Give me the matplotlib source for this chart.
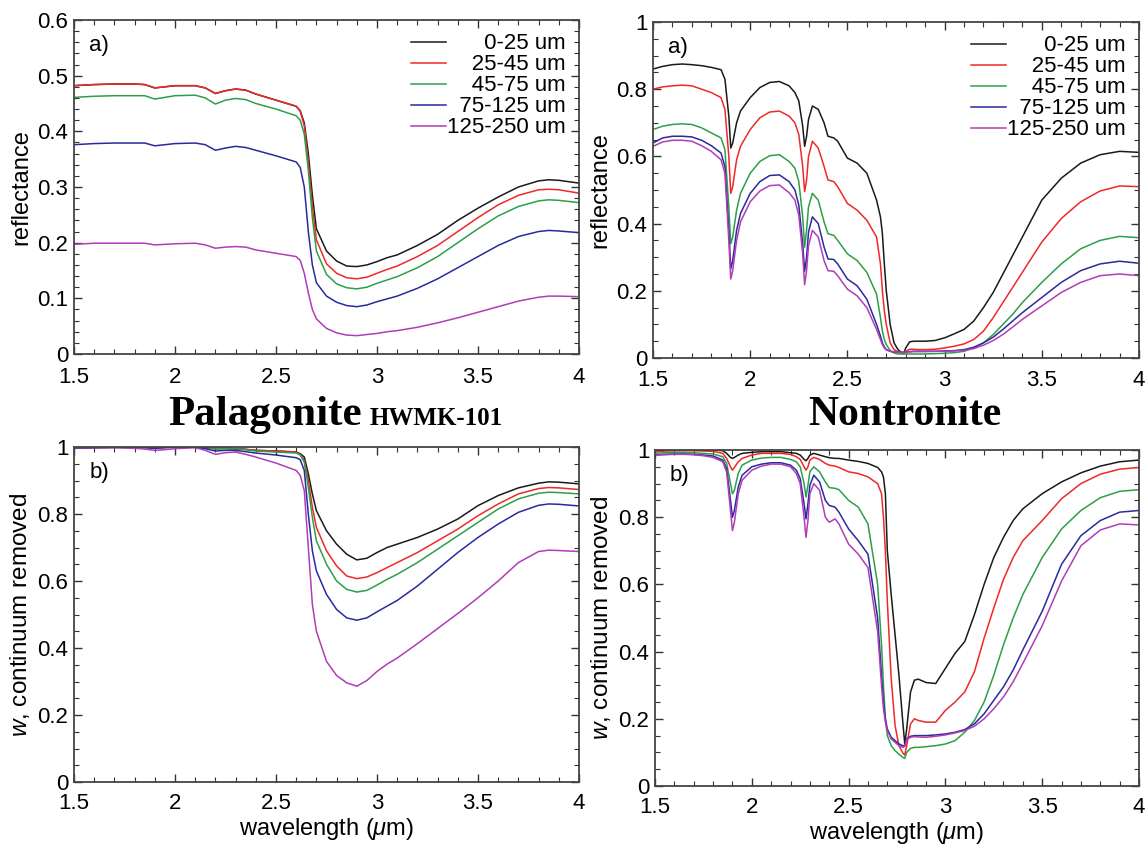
import matplotlib
matplotlib.use("Agg")
import matplotlib.pyplot as plt
from matplotlib.ticker import MultipleLocator

plt.rcParams['font.family'] = ['Liberation Sans', 'DejaVu Sans']
plt.rcParams['mathtext.fontset'] = 'custom'
plt.rcParams['mathtext.rm'] = 'Liberation Sans'
plt.rcParams['mathtext.it'] = 'Liberation Sans:italic'

# grain size classes (legend labels padded with figure spaces so they line up on the right)
sizes = ["\u2007\u2007\u20070-25 um", "\u2007\u200725-45 um", "\u2007\u200745-75 um",
         "\u200775-125 um", "125-250 um"]
colors = ["#1a1a1a", "#f02828", "#2ca048", "#2a2a9e", "#b03cb8"]

# ---- Palagonite HWMK-101 ----
wl_pal = [1.5, 1.6, 1.7, 1.8, 1.85, 1.9, 1.95, 2.0, 2.1, 2.15, 2.2, 2.25, 2.3, 2.35, 2.4, 2.5,
          2.6, 2.62, 2.64, 2.66, 2.68, 2.7, 2.75, 2.8, 2.85, 2.9, 2.95, 3.0, 3.05, 3.1, 3.2,
          3.3, 3.4, 3.5, 3.6, 3.7, 3.8, 3.85, 3.9, 4.0]

refl_pal_0_25 = [0.482, 0.484, 0.485, 0.485, 0.484, 0.478, 0.480, 0.482, 0.482, 0.478, 0.468,
                 0.473, 0.476, 0.474, 0.467, 0.456, 0.445, 0.437, 0.415, 0.36, 0.285, 0.225,
                 0.185, 0.167, 0.158, 0.157, 0.16, 0.166, 0.173, 0.178, 0.195, 0.215, 0.24,
                 0.262, 0.282, 0.300, 0.311, 0.313, 0.312, 0.307]
refl_pal_25_45 = [0.482, 0.484, 0.485, 0.485, 0.484, 0.478, 0.480, 0.482, 0.482, 0.478, 0.468,
                  0.473, 0.476, 0.474, 0.467, 0.456, 0.445, 0.436, 0.41, 0.345, 0.265, 0.205,
                  0.162, 0.145, 0.137, 0.135, 0.138, 0.145, 0.152, 0.158, 0.175, 0.195, 0.22,
                  0.245, 0.268, 0.285, 0.295, 0.296, 0.295, 0.289]
refl_pal_45_75 = [0.461, 0.463, 0.464, 0.464, 0.464, 0.458, 0.461, 0.464, 0.465, 0.46, 0.449,
                  0.456, 0.459, 0.457, 0.45, 0.44, 0.428, 0.42, 0.395, 0.33, 0.245, 0.185,
                  0.143, 0.126, 0.119, 0.117, 0.12, 0.127, 0.133, 0.139, 0.155, 0.175, 0.2,
                  0.225, 0.248, 0.265, 0.275, 0.277, 0.276, 0.272]
refl_pal_75_125 = [0.376, 0.378, 0.379, 0.379, 0.379, 0.374, 0.376, 0.378, 0.379, 0.376, 0.366,
                   0.37, 0.373, 0.371, 0.366, 0.356, 0.345, 0.335, 0.3, 0.22, 0.16, 0.128,
                   0.104, 0.093, 0.087, 0.085, 0.088, 0.094, 0.099, 0.104, 0.118, 0.135, 0.155,
                   0.175, 0.195, 0.211, 0.22, 0.222, 0.221, 0.218]
refl_pal_125_250 = [0.197, 0.199, 0.199, 0.199, 0.199, 0.196, 0.197, 0.198, 0.199, 0.196, 0.19,
                    0.192, 0.193, 0.192, 0.187, 0.181, 0.175, 0.168, 0.145, 0.11, 0.08, 0.063,
                    0.046, 0.038, 0.034, 0.033, 0.035, 0.037, 0.04, 0.042, 0.048, 0.056, 0.065,
                    0.075, 0.085, 0.095, 0.102, 0.104, 0.104, 0.103]

w_pal_0_25 = [0.997, 0.998, 0.999, 0.999, 0.999, 0.998, 0.999, 1.0, 1.0, 0.998, 0.995, 0.996,
              0.995, 0.993, 0.99, 0.988, 0.985, 0.98, 0.97, 0.92, 0.86, 0.81, 0.75, 0.71,
              0.68, 0.663, 0.668, 0.685, 0.70, 0.71, 0.73, 0.755, 0.785, 0.825, 0.855, 0.878,
              0.892, 0.896, 0.895, 0.89]
w_pal_25_45 = [0.998, 0.999, 0.999, 0.999, 0.999, 0.998, 0.999, 1.0, 1.0, 0.998, 0.995, 0.996,
               0.995, 0.993, 0.99, 0.988, 0.985, 0.978, 0.96, 0.9, 0.82, 0.76, 0.69, 0.645,
               0.615, 0.607, 0.612, 0.625, 0.64, 0.655, 0.685, 0.72, 0.755, 0.795, 0.83, 0.86,
               0.876, 0.879, 0.878, 0.873]
w_pal_45_75 = [0.998, 0.999, 0.999, 0.999, 0.999, 0.997, 0.999, 1.0, 1.0, 0.998, 0.995, 0.995,
               0.994, 0.992, 0.988, 0.985, 0.982, 0.976, 0.955, 0.88, 0.79, 0.72, 0.65, 0.6,
               0.575, 0.567, 0.572, 0.588, 0.605, 0.62, 0.655, 0.695, 0.735, 0.775, 0.815,
               0.845, 0.862, 0.865, 0.864, 0.86]
w_pal_75_125 = [0.997, 0.998, 0.999, 0.999, 0.998, 0.996, 0.998, 0.999, 0.999, 0.995, 0.988,
                0.99, 0.99, 0.986, 0.982, 0.976, 0.968, 0.962, 0.93, 0.8, 0.69, 0.63, 0.56,
                0.515, 0.49, 0.483, 0.49, 0.508, 0.525, 0.542, 0.585, 0.635, 0.685, 0.73, 0.77,
                0.805, 0.826, 0.83, 0.829, 0.824]
w_pal_125_250 = [0.998, 0.998, 0.998, 0.996, 0.994, 0.99, 0.992, 0.995, 0.998, 0.99, 0.978,
                 0.983, 0.985, 0.978, 0.97, 0.952, 0.93, 0.915, 0.87, 0.7, 0.53, 0.45, 0.36,
                 0.318, 0.296, 0.286, 0.303, 0.33, 0.352, 0.37, 0.413, 0.458, 0.503, 0.55, 0.6,
                 0.655, 0.688, 0.692, 0.691, 0.688]

# ---- Nontronite ----
wl_non = [1.5, 1.55, 1.6, 1.65, 1.7, 1.75, 1.8, 1.85, 1.87, 1.89, 1.9, 1.91, 1.93, 1.95, 2.0,
          2.05, 2.1, 2.15, 2.2, 2.23, 2.25, 2.27, 2.28, 2.29, 2.3, 2.32, 2.35, 2.38, 2.4, 2.43,
          2.45, 2.5, 2.55, 2.6, 2.65, 2.67, 2.68, 2.69, 2.7, 2.72, 2.74, 2.76, 2.78, 2.79, 2.8,
          2.82, 2.84, 2.86, 2.9, 2.95, 3.0, 3.05, 3.1, 3.15, 3.2, 3.25, 3.3, 3.35, 3.4, 3.5,
          3.6, 3.7, 3.8, 3.9, 4.0]

refl_non_0_25 = [0.86, 0.868, 0.873, 0.875, 0.873, 0.87, 0.865, 0.858, 0.83, 0.72, 0.625, 0.64,
                 0.70, 0.735, 0.775, 0.805, 0.82, 0.823, 0.81, 0.79, 0.765, 0.69, 0.63, 0.66,
                 0.71, 0.75, 0.74, 0.70, 0.66, 0.655, 0.645, 0.595, 0.58, 0.55, 0.47, 0.42,
                 0.37, 0.28, 0.2, 0.1, 0.045, 0.025, 0.015, 0.013, 0.03, 0.048, 0.05, 0.05,
                 0.05, 0.052, 0.06, 0.072, 0.085, 0.11, 0.15, 0.195, 0.25, 0.305, 0.36, 0.47,
                 0.535, 0.58, 0.605, 0.615, 0.612]
refl_non_25_45 = [0.80, 0.807, 0.81, 0.812, 0.81, 0.80, 0.79, 0.775, 0.74, 0.6, 0.49, 0.51,
                  0.59, 0.63, 0.68, 0.715, 0.732, 0.735, 0.72, 0.70, 0.665, 0.57, 0.495, 0.53,
                  0.6, 0.645, 0.625, 0.57, 0.53, 0.525, 0.51, 0.46, 0.44, 0.41, 0.36, 0.28, 0.2,
                  0.14, 0.1, 0.045, 0.025, 0.018, 0.015, 0.015, 0.02, 0.026, 0.026, 0.025, 0.025,
                  0.026, 0.03, 0.035, 0.042, 0.055, 0.08, 0.12, 0.165, 0.21, 0.255, 0.345, 0.415,
                  0.465, 0.497, 0.512, 0.51]
refl_non_45_75 = [0.68, 0.69, 0.695, 0.697, 0.695, 0.685, 0.67, 0.655, 0.62, 0.45, 0.34, 0.36,
                  0.44, 0.49, 0.55, 0.585, 0.602, 0.605, 0.585, 0.565, 0.525, 0.42, 0.33, 0.38,
                  0.45, 0.49, 0.47, 0.405, 0.37, 0.365, 0.35, 0.31, 0.29, 0.255, 0.19, 0.12,
                  0.08, 0.055, 0.04, 0.022, 0.015, 0.012, 0.012, 0.012, 0.012, 0.012, 0.012,
                  0.012, 0.012, 0.013, 0.014, 0.016, 0.02, 0.03, 0.045, 0.07, 0.1, 0.13, 0.165,
                  0.225, 0.28, 0.325, 0.35, 0.362, 0.358]
refl_non_75_125 = [0.64, 0.655, 0.66, 0.66, 0.658, 0.648, 0.632, 0.61, 0.57, 0.38, 0.265, 0.29,
                   0.38, 0.43, 0.49, 0.525, 0.543, 0.545, 0.525, 0.5, 0.455, 0.34, 0.258, 0.3,
                   0.375, 0.42, 0.4, 0.33, 0.295, 0.293, 0.28, 0.235, 0.215, 0.175, 0.1, 0.065,
                   0.045, 0.033, 0.025, 0.02, 0.018, 0.017, 0.017, 0.017, 0.018, 0.019, 0.02,
                   0.02, 0.02, 0.02, 0.021, 0.022, 0.025, 0.032, 0.045, 0.062, 0.085, 0.11,
                   0.135, 0.18, 0.225, 0.26, 0.28, 0.288, 0.282]
refl_non_125_250 = [0.63, 0.643, 0.648, 0.648, 0.645, 0.632, 0.615, 0.59, 0.55, 0.35, 0.235,
                    0.26, 0.35, 0.405, 0.465, 0.497, 0.513, 0.515, 0.492, 0.47, 0.425, 0.31,
                    0.218, 0.26, 0.335, 0.38, 0.36, 0.29, 0.26, 0.258, 0.245, 0.205, 0.185, 0.15,
                    0.085, 0.055, 0.04, 0.03, 0.024, 0.02, 0.018, 0.017, 0.017, 0.017, 0.018,
                    0.018, 0.019, 0.019, 0.019, 0.02, 0.02, 0.021, 0.023, 0.028, 0.038, 0.052,
                    0.07, 0.092, 0.115, 0.155, 0.195, 0.225, 0.245, 0.25, 0.245]

w_non_0_25 = [0.998, 0.999, 0.999, 1.0, 1.0, 1.0, 1.0, 0.998, 0.99, 0.978, 0.975, 0.978, 0.985,
              0.99, 0.993, 0.995, 0.995, 0.995, 0.992, 0.99, 0.985, 0.972, 0.968, 0.975, 0.985,
              0.99, 0.985, 0.98, 0.977, 0.975, 0.975, 0.97, 0.966, 0.96, 0.948, 0.935, 0.92,
              0.87, 0.70, 0.57, 0.45, 0.33, 0.19, 0.125, 0.17, 0.28, 0.315, 0.318, 0.308,
              0.305, 0.35, 0.395, 0.43, 0.51, 0.6, 0.68, 0.74, 0.79, 0.825, 0.87, 0.905, 0.932,
              0.952, 0.965, 0.97]
w_non_25_45 = [0.995, 0.997, 0.998, 0.998, 0.998, 0.997, 0.996, 0.99, 0.975, 0.95, 0.94, 0.948,
               0.965, 0.975, 0.985, 0.99, 0.99, 0.99, 0.987, 0.98, 0.972, 0.95, 0.94, 0.95,
               0.97, 0.978, 0.972, 0.96, 0.955, 0.952, 0.948, 0.935, 0.93, 0.92, 0.9, 0.87, 0.8,
               0.7, 0.55, 0.32, 0.18, 0.12, 0.098, 0.092, 0.12, 0.185, 0.2, 0.195, 0.19, 0.19,
               0.225, 0.25, 0.28, 0.34, 0.44, 0.53, 0.615, 0.68, 0.73, 0.79, 0.855, 0.9, 0.928,
               0.943, 0.948]
w_non_45_75 = [0.99, 0.992, 0.993, 0.993, 0.992, 0.99, 0.988, 0.98, 0.96, 0.9, 0.87, 0.88, 0.93,
               0.955, 0.97, 0.976, 0.978, 0.978, 0.972, 0.965, 0.95, 0.9, 0.86, 0.895, 0.935,
               0.95, 0.935, 0.905, 0.888, 0.886, 0.882, 0.85, 0.83, 0.78, 0.6, 0.42, 0.3, 0.2,
               0.15, 0.12, 0.105, 0.095, 0.085, 0.082, 0.1, 0.112, 0.115, 0.115, 0.117, 0.12,
               0.125, 0.135, 0.16, 0.195, 0.25, 0.33, 0.42, 0.5, 0.57, 0.68, 0.765, 0.82, 0.858,
               0.877, 0.882]
w_non_75_125 = [0.985, 0.987, 0.988, 0.988, 0.987, 0.985, 0.982, 0.97, 0.945, 0.85, 0.80, 0.82,
                0.89, 0.925, 0.95, 0.958, 0.962, 0.962, 0.955, 0.94, 0.915, 0.84, 0.795, 0.84,
                0.895, 0.925, 0.905, 0.85, 0.835, 0.83, 0.815, 0.765, 0.73, 0.69, 0.5, 0.33,
                0.25, 0.2, 0.17, 0.145, 0.135, 0.125, 0.12, 0.12, 0.14, 0.148, 0.15, 0.15, 0.15,
                0.152, 0.155, 0.16, 0.168, 0.185, 0.215, 0.255, 0.295, 0.345, 0.405, 0.52, 0.66,
                0.745, 0.79, 0.815, 0.82]
w_non_125_250 = [0.985, 0.986, 0.987, 0.987, 0.986, 0.983, 0.978, 0.965, 0.935, 0.82, 0.76,
                 0.785, 0.87, 0.91, 0.94, 0.952, 0.958, 0.958, 0.95, 0.93, 0.9, 0.8, 0.74, 0.79,
                 0.87, 0.9, 0.88, 0.8, 0.785, 0.795, 0.78, 0.72, 0.69, 0.65, 0.46, 0.3, 0.23,
                 0.19, 0.165, 0.14, 0.13, 0.12, 0.115, 0.118, 0.138, 0.145, 0.147, 0.146, 0.145,
                 0.148, 0.152, 0.158, 0.165, 0.178, 0.2, 0.23, 0.265, 0.31, 0.365, 0.477, 0.61,
                 0.715, 0.762, 0.78, 0.777]


def style_axes(ax, ymax, ymajor, yminor, xpad):
    ax.set_xlim(1.5, 4)
    ax.set_ylim(0, ymax)
    ax.xaxis.set_major_locator(MultipleLocator(0.5))
    ax.xaxis.set_minor_locator(MultipleLocator(0.1))
    ax.yaxis.set_major_locator(MultipleLocator(ymajor))
    ax.yaxis.set_minor_locator(MultipleLocator(yminor))
    ax.xaxis.set_major_formatter(plt.FuncFormatter(lambda v, p: f"{v:g}"))
    ax.yaxis.set_major_formatter(plt.FuncFormatter(lambda v, p: f"{v:g}"))
    ax.tick_params(which='both', direction='in', top=True, right=True,
                   labelsize=16, color='#333333')
    ax.tick_params(axis='x', pad=xpad)
    ax.tick_params(axis='y', pad=4)
    ax.tick_params(which='major', length=6, width=1)
    ax.tick_params(which='minor', length=3.5, width=0.8)
    for s in ax.spines.values():
        s.set_linewidth(1.3)
        s.set_color('#444444')


fig = plt.figure(figsize=(11.48, 8.48), dpi=100)
W, H = 1148, 848


def add_axes(x0, x1, y0, y1):
    return fig.add_axes([x0 / W, 1 - y1 / H, (x1 - x0) / W, (y1 - y0) / H])


ax_tl = add_axes(74, 579, 20, 354)
ax_tr = add_axes(653, 1139, 22, 358)
ax_bl = add_axes(74, 579, 447, 782)
ax_br = add_axes(655, 1139, 450, 786)

panels = [
    (ax_tl, wl_pal, [refl_pal_0_25, refl_pal_25_45, refl_pal_45_75, refl_pal_75_125, refl_pal_125_250]),
    (ax_tr, wl_non, [refl_non_0_25, refl_non_25_45, refl_non_45_75, refl_non_75_125, refl_non_125_250]),
    (ax_bl, wl_pal, [w_pal_0_25, w_pal_25_45, w_pal_45_75, w_pal_75_125, w_pal_125_250]),
    (ax_br, wl_non, [w_non_0_25, w_non_25_45, w_non_45_75, w_non_75_125, w_non_125_250]),
]
for ax, wl, series in panels:
    for vals, c, lab in zip(series, colors, sizes):
        ax.plot(wl, vals, color=c, lw=1.1, label=lab)

style_axes(ax_tl, 0.6, 0.1, 0.02, 9)
style_axes(ax_tr, 1.0, 0.2, 0.05, 9)
style_axes(ax_bl, 1.0, 0.2, 0.05, 8)
style_axes(ax_br, 1.0, 0.2, 0.05, 8)

for ax in (ax_tl, ax_tr):
    ax.set_ylabel("reflectance", fontsize=17, labelpad=4)
    ax.text(0.03, 0.925, "a)", transform=ax.transAxes, fontsize=16, va='center')
    ax.legend(loc='upper right', frameon=False, fontsize=16, handlelength=1.55,
              handletextpad=0.05, labelspacing=0.0, borderaxespad=0.2)
for ax in (ax_bl, ax_br):
    ax.set_ylabel(r"$w$, continuum removed", fontsize=17.5, labelpad=4)
    ax.set_xlabel(r"wavelength ($\mu$m)", fontsize=17, labelpad=1)
    ax.text(0.03, 0.925, "b)", transform=ax.transAxes, fontsize=16, va='center')

serif = ['Liberation Serif', 'DejaVu Serif']
fig.text(362 / W, 1 - 425 / H, "Palagonite", fontsize=31, fontweight='bold',
         family=serif, ha='right', va='baseline')
fig.text(370 / W, 1 - 425 / H, "HWMK-101", fontsize=18, fontweight='bold',
         family=serif, ha='left', va='baseline')
fig.text(905 / W, 1 - 425 / H, "Nontronite", fontsize=30, fontweight='bold',
         family=serif, ha='center', va='baseline')

fig.savefig("out.png", dpi=100)
